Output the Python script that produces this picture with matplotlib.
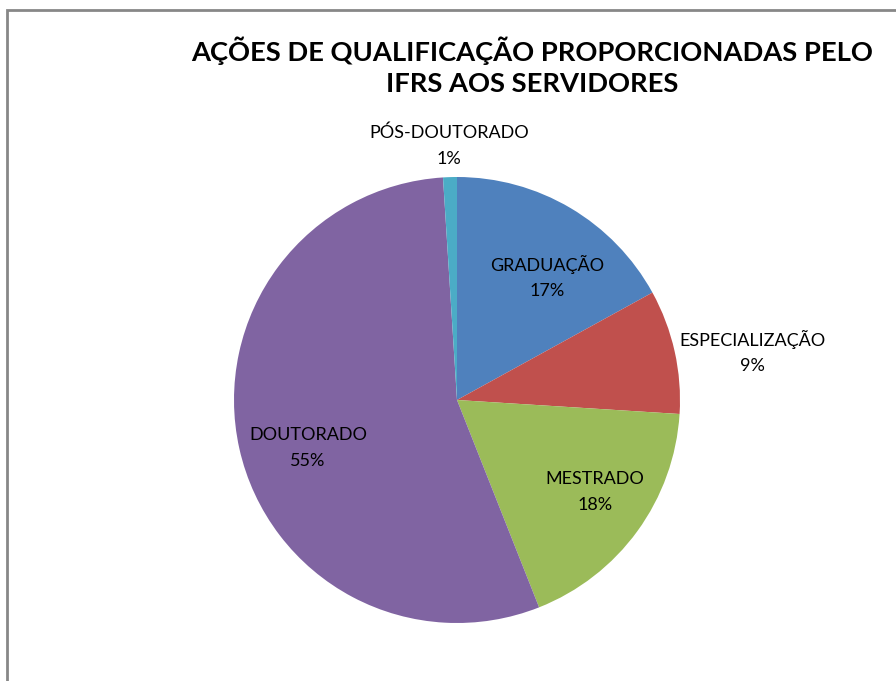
import matplotlib
matplotlib.use("Agg")
import matplotlib.pyplot as plt
from matplotlib.patches import Rectangle

plt.rcParams['font.family'] = ['Lato', 'DejaVu Sans']

categorias = ['GRADUAÇÃO', 'ESPECIALIZAÇÃO', 'MESTRADO', 'DOUTORADO', 'PÓS-DOUTORADO']
valores = [17, 9, 18, 55, 1]
cores = ['#4F81BD', '#C0504D', '#9BBB59', '#8064A2', '#4BACC6']
titulo = 'AÇÕES DE QUALIFICAÇÃO PROPORCIONADAS PELO\nIFRS AOS SERVIDORES'

# posicoes dos rotulos (raio 1 = borda da pizza)
pos_rotulos = [(0.404, 0.552), (1.323, 0.215), (0.619, -0.413),
               (-0.668, -0.215), (-0.036, 1.139)]

W, H = 896, 681
fig = plt.figure(figsize=(W / 100, H / 100), dpi=100)

# moldura cinza
fig.patches.append(Rectangle((7 / W, -0.1), 1.2, 1 - 10 / H + 0.1,
                             transform=fig.transFigure, fill=False,
                             edgecolor='#878787', linewidth=2))

cx, cy, r = 457, 400, 223
ax = fig.add_axes([(cx - r) / W, (H - cy - r) / H, 2 * r / W, 2 * r / H])
ax.pie(valores, colors=cores, startangle=90, counterclock=False,
       wedgeprops=dict(linewidth=0))
ax.set_xlim(-1, 1)
ax.set_ylim(-1, 1)
ax.set_aspect('equal')

total = sum(valores)
for nome, v, (x, y) in zip(categorias, valores, pos_rotulos):
    ax.text(x, y, f'{nome}\n{round(100 * v / total)}%', ha='center', va='center',
            fontsize=13, linespacing=1.75, color='black', clip_on=False)

fig.text(532 / W, 1 - 66 / H, titulo, ha='center', va='center',
         fontsize=19.7, fontweight='bold', linespacing=1.35)

fig.savefig('out.png', dpi=100)
